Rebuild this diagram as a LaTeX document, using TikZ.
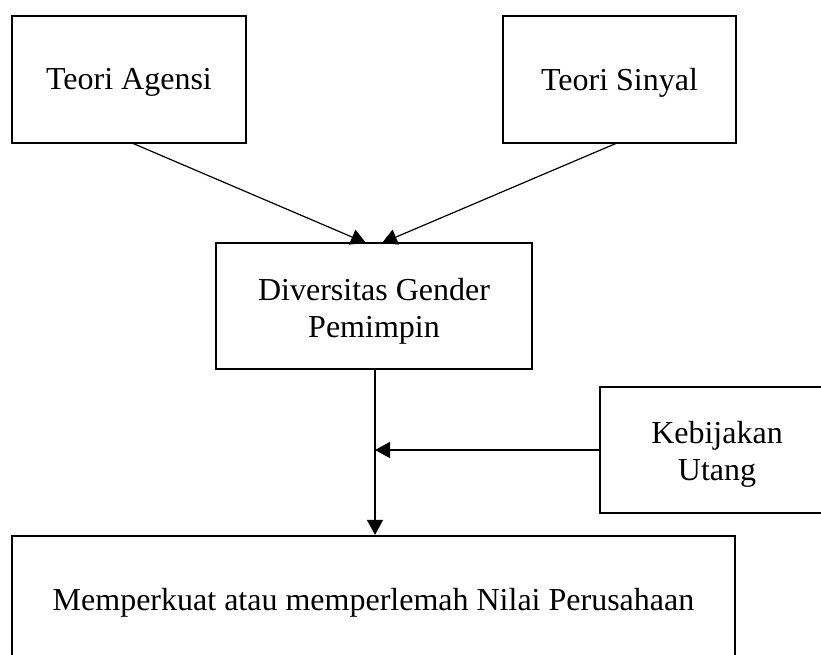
\documentclass[tikz,border=0pt]{standalone}
\usepackage{fontspec}
\setmainfont{Liberation Serif}
\usetikzlibrary{arrows.meta}
\newcommand{\lowtxt}[2]{\raisebox{-#1}[\height][\depth]{#2}}
\begin{document}
\begin{tikzpicture}[x=1pt,y=-1pt,
  box/.style={draw=black, line width=2.2pt, inner sep=0pt, align=center,
    font=\fontsize{32}{37}\selectfont},
  conn/.style={draw=black, line width=1.2pt, -{Triangle[length=15pt,width=16pt]}}]
\clip (0,0) rectangle (821,655);
\fill[white] (0,0) rectangle (821,655);
\node[box, minimum width=234pt, minimum height=127pt] (agensi) at (129,79.5) {\lowtxt{3pt}{Teori Agensi}};
\node[box, minimum width=233pt, minimum height=127pt] (sinyal) at (619.5,79.5) {\lowtxt{3pt}{Teori Sinyal}};
\node[box, minimum width=316pt, minimum height=126pt] (div) at (374,306) {\lowtxt{5pt}{Diversitas Gender}\\\lowtxt{5pt}{Pemimpin}};
\node[box, minimum width=234pt, minimum height=126pt] (keb) at (717,450) {\lowtxt{4pt}{Kebijakan}\\\lowtxt{4pt}{Utang}};
\node[box, minimum width=723pt, minimum height=134pt] (nilai) at (373.5,603) {Memperkuat atau memperlemah Nilai Perusahaan};
\coordinate (a1) at (132,143);
\coordinate (a2) at (366,243);
\coordinate (b1) at (617,143);
\coordinate (b2) at (382,243);
\coordinate (m) at (375,450);
\draw[conn] (a1) -- (a2);
\draw[conn] (b1) -- (b2);
\draw[conn] (div.south -| m) -- (nilai.north -| m);
\draw[conn] (keb.west) -- (m);
\end{tikzpicture}
\end{document}
